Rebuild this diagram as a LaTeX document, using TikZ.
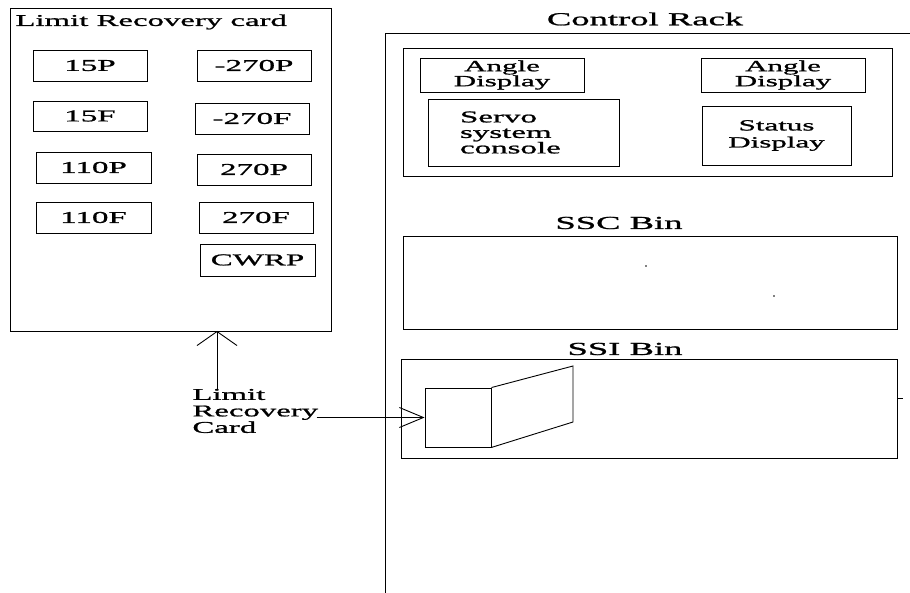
\documentclass[tikz,border=0pt]{standalone}
\usepackage{fontspec}
\setmainfont{Liberation Serif}[FakeStretch=2, FakeBold=1.2]
\usetikzlibrary{arrows.meta}
\begin{document}
\begin{tikzpicture}[x=1pt, y=-1pt, line width=0.9pt,
  box/.style={draw, inner sep=0pt, align=center, font=\fontsize{16.5}{15.5}\selectfont},
  title/.style={inner sep=0pt, font=\fontsize{18.3}{18}\selectfont},
  label/.style={inner sep=0pt, align=left, font=\fontsize{16.4}{16.5}\selectfont}]
\useasboundingbox (0,0) rectangle (910,593);
\node[draw, inner sep=0pt, minimum width=321, minimum height=323] (lrbox) at (170.5,169.5) {};
\node[label, anchor=west] (lrtitle) at (15,22) {Limit Recovery card};
\node[box, minimum width=114, minimum height=31] (p15) at (90,65.5) {15P};
\node[box, minimum width=114, minimum height=31] (m270p) at (254,65.5) {-270P};
\node[box, minimum width=114, minimum height=30] (f15) at (90,116) {15F};
\node[box, minimum width=114, minimum height=31] (m270f) at (252,118.5) {-270F};
\node[box, minimum width=115, minimum height=31] (p110) at (93.5,167.5) {110P};
\node[box, minimum width=114, minimum height=31] (p270) at (254,169.5) {270P};
\node[box, minimum width=115, minimum height=31] (f110) at (93.5,217.5) {110F};
\node[box, minimum width=114, minimum height=31] (f270) at (256,217.5) {270F};
\node[box, minimum width=115, minimum height=32] (cwrp) at (257.5,260) {CWRP};
\node[title] (rack) at (645,19) {Control Rack};
\draw (910,33) -- (385,33) -- (385,593);
\node[draw, inner sep=0pt, minimum width=489, minimum height=128] (console) at (647.5,112) {};
\node[box, minimum width=164, minimum height=34, font=\fontsize{15.5}{15}\selectfont] (angl) at (502,75) {Angle\\Display};
\node[box, minimum width=164, minimum height=34, font=\fontsize{15.5}{15}\selectfont] (angr) at (783,75) {Angle\\Display};
\node[box, minimum width=191, minimum height=67, inner xsep=32pt, text width=127, align=left] (servo) at (523.5,132.5) {Servo\\system\\console};
\node[box, minimum width=149, minimum height=59, font=\fontsize{15.5}{17}\selectfont] (status) at (776.5,135.5) {Status\\Display};
\node[title] (ssct) at (619,223) {SSC Bin};
\node[draw, inner sep=0pt, minimum width=494, minimum height=93] (ssc) at (650,282.5) {};
\fill (646,266) circle (0.8);
\fill (774,296) circle (0.8);
\node[title] (ssit) at (625,349) {SSI Bin};
\node[draw, inner sep=0pt, minimum width=496, minimum height=99] (ssi) at (649,408.5) {};
\draw (ssi.east |- 0,398) -- +(6,0);
\node[draw, inner sep=0pt, minimum width=66, minimum height=59] (card) at (458,417.5) {};
\coordinate (ctop) at (573,366);
\coordinate (cbot) at (573,422);
\draw (card.north east) -- (ctop) -- (cbot) -- (card.south east);
\node[label, anchor=west] (lrc) at (192,411) {Limit\\Recovery\\Card};
\coordinate (up) at (217,331);
\draw[-{Straight Barb[length=14pt,width=40pt]}] (lrc.north -| up) -- (up);
\draw[-{Straight Barb[length=24pt,width=20pt]}] ([xshift=-2pt]lrc.east |- card.west) -- (card.west);
\end{tikzpicture}
\end{document}
